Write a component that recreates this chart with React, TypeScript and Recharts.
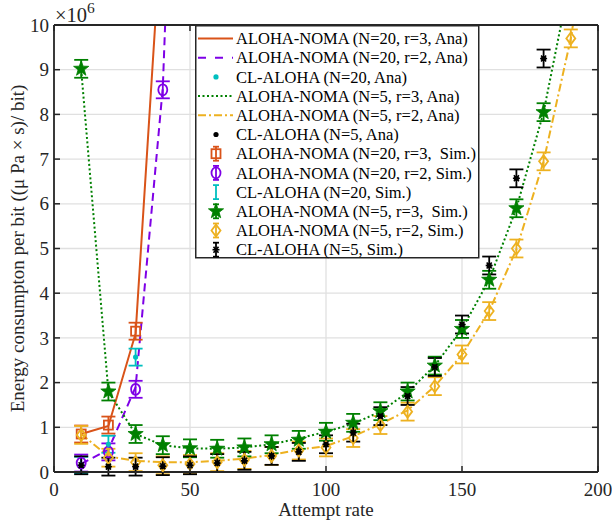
import React from 'react';
import {
  ComposedChart,
  Line,
  Scatter,
  XAxis,
  YAxis,
  CartesianGrid,
  ErrorBar,
  Legend,
} from 'recharts';

// attempt rates, shared by every series (values are in units of 10^6)
const attemptRate = [10, 20, 30, 40, 50, 60, 70, 80, 90, 100, 110, 120, 130, 140, 150, 160, 170, 180, 190, 200];

// N = 20
const n20r3Ana = [0.85, 1.03, 3.1, 12.7];
const n20r2Ana = [0.18, 0.5, 1.9, 8.6, 25];
const n20clAna = [0.15, 0.62, 2.57];
const n20r3Sim = [0.85, 1.05, 3.15];
const n20r2Sim = [0.2, 0.45, 1.85, 8.55];
const n20clSim = [0.15, 0.62, 2.57];

// N = 5
const n5r3Ana = [9.0, 1.8, 0.85, 0.6, 0.53, 0.52, 0.55, 0.62, 0.75, 0.9, 1.08, 1.35, 1.78, 2.38, 3.2, 4.3, 5.9, 8.05, 11.1];
const n5r2Ana = [0.85, 0.35, 0.25, 0.22, 0.22, 0.25, 0.3, 0.38, 0.5, 0.58, 0.8, 1.07, 1.38, 1.92, 2.62, 3.6, 4.98, 6.95, 9.7, 13.5];
const n5clAna = [0.15, 0.12, 0.12, 0.13, 0.15, 0.2, 0.25, 0.36, 0.45, 0.62, 0.88, 1.25, 1.7, 2.35, 3.3, 4.62, 6.57, 9.25];
const n5r3Sim = [9.02, 1.8, 0.85, 0.6, 0.53, 0.52, 0.55, 0.62, 0.72, 0.9, 1.1, 1.36, 1.8, 2.38, 3.2, 4.3, 5.9, 8.05];
const n5r2Sim = [0.83, 0.32, 0.22, 0.15, 0.18, 0.22, 0.27, 0.36, 0.48, 0.55, 0.76, 1.05, 1.35, 1.92, 2.63, 3.6, 5.0, 6.95, 9.7];
const n5clSim = [0.15, 0.12, 0.12, 0.13, 0.15, 0.2, 0.25, 0.36, 0.45, 0.62, 0.88, 1.25, 1.7, 2.35, 3.3, 4.62, 6.57, 9.25];

// half height of the error bars
const errN20 = 0.19;
const errN5 = 0.2;

const xTicks = [0, 50, 100, 150, 200];
const yTicks = [0, 1, 2, 3, 4, 5, 6, 7, 8, 9, 10];

const pts = (ys: number[], err = 0) => ys.map((y, i) => ({ x: attemptRate[i], y, err }));

const FONT = 'Liberation Serif';
const AXIS = '#262626';
const ORANGE = '#D95319';
const PURPLE = '#7E00E6';
const CYAN = '#00BFBF';
const GREEN = '#008000';
const YELLOW = '#EDB120';
const BLACK = '#000000';

// marker shapes
const Square = ({ cx, cy }: any) => (
  <rect x={cx - 4.5} y={cy - 4.5} width={9} height={9} fill="none" stroke={ORANGE} strokeWidth={1.8} />
);
const Circle = ({ cx, cy }: any) => (
  <ellipse cx={cx} cy={cy} rx={4.5} ry={5.5} fill="none" stroke={PURPLE} strokeWidth={1.8} />
);
const Diamond = ({ cx, cy }: any) => (
  <polygon
    points={`${cx},${cy - 6} ${cx + 4.5},${cy} ${cx},${cy + 6} ${cx - 4.5},${cy}`}
    fill="none"
    stroke={YELLOW}
    strokeWidth={1.8}
  />
);
const Star = ({ cx, cy }: any) => {
  const p: string[] = [];
  for (let i = 0; i < 10; i++) {
    const r = i % 2 === 0 ? 8 : 3.3;
    const a = -Math.PI / 2 + (i * Math.PI) / 5;
    p.push(`${cx + r * Math.cos(a)},${cy + r * Math.sin(a)}`);
  }
  return <polygon points={p.join(' ')} fill={GREEN} stroke={GREEN} strokeWidth={0.8} />;
};
const Asterisk = ({ cx, cy }: any) => (
  <g stroke={BLACK} strokeWidth={1.6}>
    <line x1={cx - 3.5} y1={cy} x2={cx + 3.5} y2={cy} />
    <line x1={cx - 2.5} y1={cy - 3} x2={cx + 2.5} y2={cy + 3} />
    <line x1={cx - 2.5} y1={cy + 3} x2={cx + 2.5} y2={cy - 3} />
  </g>
);
const Dot = (color: string) => ({ cx, cy }: any) => <circle cx={cx} cy={cy} r={2.6} fill={color} />;
const NoMarker = () => <g />;

// inward ticks, MATLAB style
const leftTick = ({ x, y, payload }: any) => (
  <g>
    <line x1={x + 5} x2={x + 11} y1={y} y2={y} stroke={AXIS} strokeWidth={1.5} />
    <text x={x} y={y} dy="0.35em" textAnchor="end" fontFamily={FONT} fontSize={19} fill={AXIS}>
      {payload.value}
    </text>
  </g>
);
const bottomTick = ({ x, y, payload }: any) => (
  <g>
    <line x1={x} x2={x} y1={y - 11} y2={y - 17} stroke={AXIS} strokeWidth={1.5} />
    <text x={x} y={y} dy="0.71em" textAnchor="middle" fontFamily={FONT} fontSize={19} fill={AXIS}>
      {payload.value}
    </text>
  </g>
);
const topTick = ({ x, y }: any) => <line x1={x} x2={x} y1={y} y2={y + 6} stroke={AXIS} strokeWidth={1.5} />;
const rightTick = ({ x, y }: any) => <line x1={x} x2={x - 6} y1={y} y2={y} stroke={AXIS} strokeWidth={1.5} />;

type Item = { label: string; color: string; dash?: string; line?: boolean; marker?: any; bar?: boolean };

const legendItems: Item[] = [
  { label: 'ALOHA-NOMA (N=20, r=3, Ana)', color: ORANGE, line: true },
  { label: 'ALOHA-NOMA (N=20, r=2, Ana)', color: PURPLE, line: true, dash: '8 9' },
  { label: 'CL-ALOHA (N=20, Ana)', color: CYAN, marker: Dot(CYAN) },
  { label: 'ALOHA-NOMA (N=5, r=3, Ana)', color: GREEN, line: true, dash: '2 2.5' },
  { label: 'ALOHA-NOMA (N=5, r=2, Ana)', color: YELLOW, line: true, dash: '8 3 2 3' },
  { label: 'CL-ALOHA (N=5, Ana)', color: BLACK, marker: Dot(BLACK) },
  { label: 'ALOHA-NOMA (N=20, r=3,  Sim.)', color: ORANGE, bar: true, marker: Square },
  { label: 'ALOHA-NOMA (N=20, r=2, Sim.)', color: PURPLE, bar: true, marker: Circle },
  { label: 'CL-ALOHA (N=20, Sim.)', color: CYAN, bar: true, marker: NoMarker },
  { label: 'ALOHA-NOMA (N=5, r=3,  Sim.)', color: GREEN, bar: true, marker: Star },
  { label: 'ALOHA-NOMA (N=5, r=2, Sim.)', color: YELLOW, bar: true, marker: Diamond },
  { label: 'CL-ALOHA (N=5, Sim.)', color: BLACK, bar: true, marker: Asterisk },
];

const LegendBox = () => (
  <svg width={285} height={234} style={{ display: 'block' }}>
    <rect x={0.75} y={0.75} width={283} height={232} fill="#fff" stroke={AXIS} strokeWidth={1.5} />
    {legendItems.map((it, i) => {
      const cy = 13.5 + i * 19.2;
      const M = it.marker;
      return (
        <g key={it.label}>
          {it.line && (
            <line x1={3} x2={38} y1={cy} y2={cy} stroke={it.color} strokeWidth={2} strokeDasharray={it.dash} />
          )}
          {it.bar && (
            <g stroke={it.color} strokeWidth={1.8}>
              <line x1={21} x2={21} y1={cy - 7} y2={cy + 7} />
              <line x1={18} x2={24} y1={cy - 7} y2={cy - 7} />
              <line x1={18} x2={24} y1={cy + 7} y2={cy + 7} />
            </g>
          )}
          {M && <M cx={21} cy={cy} />}
          <text
            x={41}
            y={cy}
            dy="0.35em"
            fontSize={16.5}
            fontFamily={FONT}
            fill="#000"
            style={{ whiteSpace: 'pre' }}
          >
            {it.label}
          </text>
        </g>
      );
    })}
  </svg>
);

const Exponent = ({ viewBox }: any) => (
  <text x={viewBox.x + 1} y={viewBox.y + viewBox.height - 3} fontSize={20.5} fontFamily={FONT} fill={AXIS}>
    ×10
    <tspan dy={-9} fontSize={15.5}>
      6
    </tspan>
  </text>
);

const axisLine = { stroke: AXIS, strokeWidth: 1.8 };

export default function App() {
  return (
    <div style={{ position: 'absolute', left: 0, top: 0, background: '#fff', fontFamily: FONT }}>
      <ComposedChart width={612} height={526} margin={{ top: 0, right: 0, left: 0, bottom: 0 }}>
        <CartesianGrid stroke="#e0e0e0" strokeWidth={1.3} />
        <XAxis
          type="number"
          dataKey="x"
          domain={[0, 200]}
          ticks={xTicks}
          allowDataOverflow
          height={54}
          tickLine={false}
          tickSize={0}
          tickMargin={11}
          tick={bottomTick}
          axisLine={axisLine}
          label={{
            value: 'Attempt rate',
            position: 'insideBottom',
            offset: 10,
            fontSize: 19,
            fontFamily: FONT,
            fill: AXIS,
          }}
        />
        <XAxis
          xAxisId="top"
          orientation="top"
          type="number"
          dataKey="x"
          domain={[0, 200]}
          ticks={xTicks}
          allowDataOverflow
          height={25}
          tickLine={false}
          tickSize={0}
          tickMargin={0}
          tick={topTick}
          axisLine={axisLine}
          label={<Exponent />}
        />
        <YAxis
          type="number"
          domain={[0, 10]}
          ticks={yTicks}
          allowDataOverflow
          width={54}
          tickLine={false}
          tickSize={0}
          tickMargin={5}
          tick={leftTick}
          axisLine={axisLine}
          label={{
            value: 'Energy consumpton per bit ((μ Pa × s)/ bit)',
            angle: -90,
            position: 'insideLeft',
            offset: 17,
            fontSize: 19,
            fontFamily: FONT,
            fill: AXIS,
            style: { textAnchor: 'middle' },
          }}
        />
        <YAxis
          yAxisId="right"
          orientation="right"
          type="number"
          domain={[0, 10]}
          ticks={yTicks}
          allowDataOverflow
          width={14}
          tickLine={false}
          tickSize={0}
          tickMargin={0}
          tick={rightTick}
          axisLine={axisLine}
        />

        <Line data={pts(n20r3Ana)} dataKey="y" type="linear" stroke={ORANGE} strokeWidth={2} dot={false} activeDot={false} isAnimationActive={false} />
        <Line data={pts(n20r2Ana)} dataKey="y" type="linear" stroke={PURPLE} strokeWidth={2} strokeDasharray="8 5" dot={false} activeDot={false} isAnimationActive={false} />
        <Line data={pts(n5r3Ana)} dataKey="y" type="linear" stroke={GREEN} strokeWidth={2} strokeDasharray="2 2.5" dot={false} activeDot={false} isAnimationActive={false} />
        <Line data={pts(n5r2Ana)} dataKey="y" type="linear" stroke={YELLOW} strokeWidth={2} strokeDasharray="8 3 2 3" dot={false} activeDot={false} isAnimationActive={false} />

        <Scatter data={pts(n20r3Sim, errN20)} dataKey="y" shape={Square} isAnimationActive={false}>
          <ErrorBar dataKey="err" direction="y" width={7} stroke={ORANGE} strokeWidth={1.8} />
        </Scatter>
        <Scatter data={pts(n20r2Sim, errN20)} dataKey="y" shape={Circle} isAnimationActive={false}>
          <ErrorBar dataKey="err" direction="y" width={7} stroke={PURPLE} strokeWidth={1.8} />
        </Scatter>
        <Scatter data={pts(n20clSim, errN20)} dataKey="y" shape={NoMarker} isAnimationActive={false}>
          <ErrorBar dataKey="err" direction="y" width={7} stroke={CYAN} strokeWidth={1.8} />
        </Scatter>
        <Scatter data={pts(n20clAna)} dataKey="y" shape={Dot(CYAN)} isAnimationActive={false} />
        <Scatter data={pts(n5r3Sim, errN5)} dataKey="y" shape={Star} isAnimationActive={false}>
          <ErrorBar dataKey="err" direction="y" width={7} stroke={GREEN} strokeWidth={1.8} />
        </Scatter>
        <Scatter data={pts(n5r2Sim, errN5)} dataKey="y" shape={Diamond} isAnimationActive={false}>
          <ErrorBar dataKey="err" direction="y" width={7} stroke={YELLOW} strokeWidth={1.8} />
        </Scatter>
        <Scatter data={pts(n5clSim, errN5)} dataKey="y" shape={Asterisk} isAnimationActive={false}>
          <ErrorBar dataKey="err" direction="y" width={7} stroke={BLACK} strokeWidth={1.8} />
        </Scatter>
        <Scatter data={pts(n5clAna)} dataKey="y" shape={Dot(BLACK)} isAnimationActive={false} />

        <Legend
          content={<LegendBox />}
          layout="horizontal"
          verticalAlign="middle"
          align="center"
          wrapperStyle={{ left: 195, top: 25, width: 285, height: 234 }}
        />
      </ComposedChart>
    </div>
  );
}
